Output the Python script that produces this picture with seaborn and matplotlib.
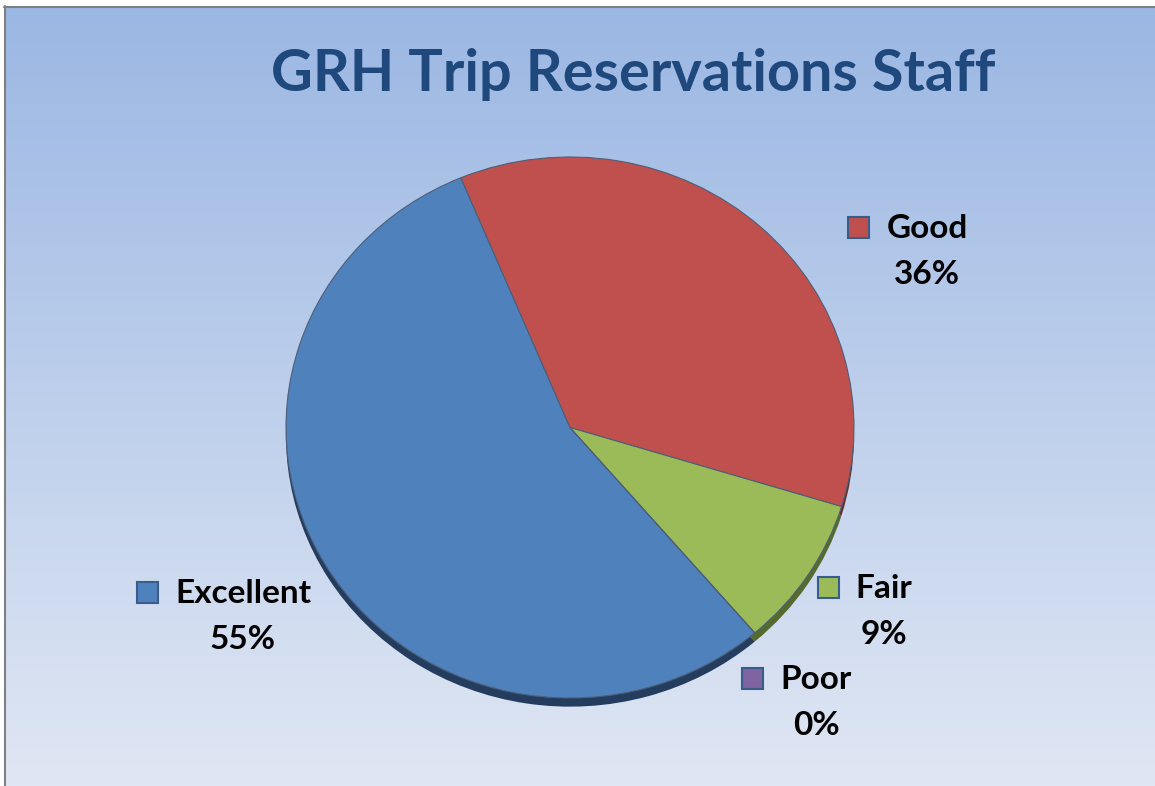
import numpy as np
import matplotlib
import matplotlib.pyplot as plt
from matplotlib.patches import Rectangle
import seaborn as sns

matplotlib.use("Agg")

categories = ["Excellent", "Good", "Fair", "Poor"]
percents = [55, 36, 9, 0]
slice_colors = ["#4f81bd", "#c0504d", "#9bbb59", "#8064a2"]
rim_colors = ["#243d5f", "#6b2c2a", "#56692f", "#4a3a5e"]
title = "GRH Trip Reservations Staff"

# label layout in pixels: centre x of the name, baseline y of the name
label_pos = [(243, 603), (927, 238), (884, 598), (816, 689)]

W, H = 1155, 786


def fx(x):
    return x / W


def fy(y):
    return 1 - y / H


sns.set_theme(style="white")
plt.rcParams["font.family"] = ["Lato", "DejaVu Sans"]

fig = plt.figure(figsize=(W / 100, H / 100), dpi=100)
fig.patch.set_facecolor("white")

# gradient background with grey frame
bg = fig.add_axes([0, 0, 1, 1])
top = np.array([155, 183, 227]) / 255
bottom = np.array([224, 231, 244]) / 255
grad = np.linspace(0, 1, 256)[:, None, None] * (bottom - top) + top
bg.imshow(grad, extent=(5, W, H, 7), aspect="auto", zorder=0)
bg.plot([5, 5], [6, H], color="#808080", lw=1.5)
bg.plot([4, W], [7, 7], color="#808080", lw=1.5)
bg.set_xlim(0, W)
bg.set_ylim(H, 0)
bg.axis("off")

# pie, slightly squashed to mimic the 3-D tilt
cx, cy, rx, ry = 570, 427.5, 284, 270.5
m = 0.06
ax = fig.add_axes([fx(cx - rx), (H - cy - ry * (1 + m)) / H, 2 * rx / W, ry * (2 + m) / H])
ax.pie(percents, colors=rim_colors, startangle=-49.4, counterclock=False,
       center=(0, -0.032), wedgeprops=dict(linewidth=0))
ax.pie(percents, colors=slice_colors, startangle=-49.4, counterclock=False,
       wedgeprops=dict(edgecolor="#4d5f78", linewidth=0.8))
ax.set_aspect("auto")
ax.set_xlim(-1, 1)
ax.set_ylim(-1 - m, 1)
ax.axis("off")

fig.text(fx(633), fy(91), title, ha="center", va="baseline",
         fontsize=41.5, fontweight="bold", color="#1f497d")

# data labels with legend keys
names = []
for (x, y), cat, p in zip(label_pos, categories, percents):
    t = fig.text(fx(x), fy(y), cat, ha="center", va="baseline",
                 fontsize=24, fontweight="bold", color="black")
    fig.text(fx(x), fy(y + 46), f"{p}%", ha="center", va="baseline",
             fontsize=24, fontweight="bold", color="black")
    names.append(t)

fig.canvas.draw()
renderer = fig.canvas.get_renderer()
for t, (x, y), col in zip(names, label_pos, slice_colors):
    bb = t.get_window_extent(renderer)
    left = bb.x0 - 17 - 21
    fig.patches.append(Rectangle((fx(left), fy(y)), 21 / W, 21 / H,
                                 transform=fig.transFigure, facecolor=col,
                                 edgecolor="#385d8a", linewidth=1.5))

fig.savefig("out.png", dpi=100)
